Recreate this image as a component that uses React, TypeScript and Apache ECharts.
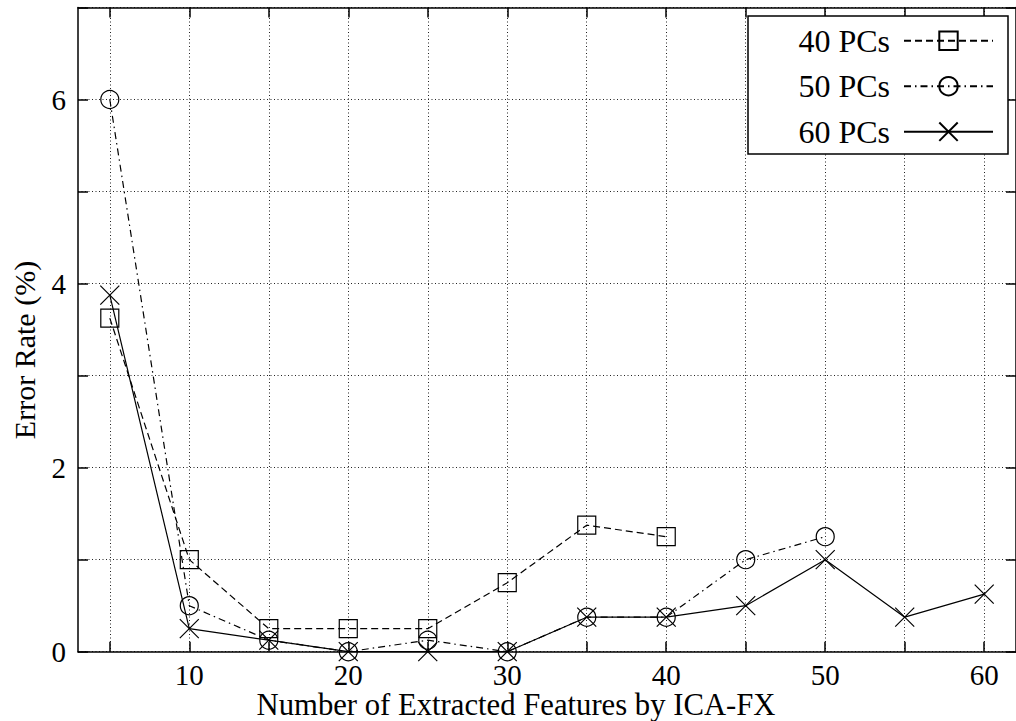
import React, { useEffect, useRef } from "react";
import * as echarts from "echarts";

// Number of features extracted by ICA-FX (x) and the error rate in % (y)
const featureCounts = [5, 10, 15, 20, 25, 30, 35, 40, 45, 50, 55, 60];
const pcs40 = [3.625, 1.0, 0.25, 0.25, 0.25, 0.75, 1.375, 1.25];
const pcs50 = [6.0, 0.5, 0.125, 0, 0.125, 0, 0.375, 0.375, 1.0, 1.25];
const pcs60 = [3.875, 0.25, 0.125, 0, 0, 0, 0.375, 0.375, 0.5, 1.0, 0.375, 0.625];

const seriesNames = ["40 PCs", "50 PCs", "60 PCs"];
const xTickValues = [5, 10, 15, 20, 25, 30, 35, 40, 45, 50, 55, 60];
const xLabelValues = [10, 20, 30, 40, 50, 60];
const yLabelValues = [0, 2, 4, 6];

const xTitle = "Number of Extracted Features by ICA-FX";
const yTitle = "Error Rate (%)";

const FONT = "Liberation Serif, DejaVu Serif, serif";
const INK = "#000";

const pairs = (ys: number[]) => ys.map((v, i) => [featureCounts[i], v]);

const crossSymbol = "path://M0,0L10,10M10,0L0,10";

export default function App() {
  const ref = useRef<HTMLDivElement>(null);

  useEffect(() => {
    if (!ref.current) return;
    const chart = echarts.init(ref.current, undefined, { renderer: "svg" });

    const axisLine = { show: true, onZero: false, lineStyle: { color: INK, width: 1.5 } };
    const tickStyle = { color: INK, width: 1.5 };
    const gridLine = { show: true, lineStyle: { color: "#222", width: 1, type: [1, 2.5] as any } };

    const markerStyle = {
      color: "rgba(0,0,0,0)",
      borderColor: INK,
      borderWidth: 1.2,
    };

    chart.setOption({
      animation: false,
      backgroundColor: "#fff",
      grid: { left: 78, top: 7.5, right: -4, bottom: 69.3, containLabel: false },
      xAxis: [
        {
          type: "value",
          position: "bottom",
          min: 3,
          max: 62,
          axisLine,
          axisTick: { show: true, inside: true, length: 10, customValues: xTickValues, lineStyle: tickStyle },
          axisLabel: {
            customValues: xLabelValues,
            color: INK,
            fontSize: 29,
            fontFamily: FONT,
            lineHeight: 26,
            margin: 10,
          },
          splitLine: gridLine,
        },
        {
          type: "value",
          position: "top",
          min: 3,
          max: 62,
          axisLine,
          axisTick: { show: true, inside: true, length: 10, customValues: xTickValues, lineStyle: tickStyle },
          axisLabel: { show: false },
          splitLine: { show: false },
        },
      ],
      yAxis: [
        {
          type: "value",
          position: "left",
          min: 0,
          max: 7,
          interval: 1,
          axisLine,
          axisTick: { show: true, inside: true, length: 10, lineStyle: tickStyle },
          axisLabel: {
            color: INK,
            fontSize: 29,
            fontFamily: FONT,
            margin: 12,
            formatter: (v: number) => (yLabelValues.includes(v) ? String(v) : ""),
          },
          splitLine: gridLine,
        },
        {
          type: "value",
          position: "right",
          min: 0,
          max: 7,
          interval: 1,
          axisLine,
          axisTick: { show: true, inside: true, length: 10, lineStyle: tickStyle },
          axisLabel: { show: false },
          splitLine: { show: false },
        },
      ],
      legend: {
        show: true,
        data: seriesNames,
        orient: "vertical",
        right: 22,
        top: 24.7,
        padding: 0,
        itemGap: 13.5,
        itemWidth: 89,
        itemHeight: 23,
        align: "right",
        z: 60,
        textStyle: {
          color: INK,
          fontSize: 32,
          fontFamily: FONT,
          lineHeight: 30,
          padding: [0, 9, 0, 0],
        },
      },
      graphic: [
        {
          type: "rect",
          z: 50,
          shape: { x: 748, y: 16, width: 260, height: 138 },
          style: { fill: "#fff", stroke: INK, lineWidth: 1.5 },
        },
        {
          type: "text",
          x: 516,
          y: 705,
          style: {
            text: xTitle,
            fontSize: 30.7,
            fontFamily: FONT,
            lineHeight: 26,
            fill: INK,
            align: "center",
            verticalAlign: "middle",
          },
        },
        {
          type: "text",
          x: 24,
          y: 350,
          rotation: Math.PI / 2,
          style: {
            text: yTitle,
            fontSize: 30,
            fontFamily: FONT,
            fill: INK,
            align: "center",
            verticalAlign: "middle",
          },
        },
      ],
      series: [
        {
          name: seriesNames[0],
          type: "line",
          data: pairs(pcs40),
          symbol: "rect",
          symbolSize: 18,
          lineStyle: { color: INK, width: 1.2, type: [7, 4] },
          itemStyle: markerStyle,
          emphasis: { disabled: true },
          z: 3,
        },
        {
          name: seriesNames[1],
          type: "line",
          data: pairs(pcs50),
          symbol: "circle",
          symbolSize: 18,
          lineStyle: { color: INK, width: 1.2, type: [7, 4, 1.5, 4] },
          itemStyle: markerStyle,
          emphasis: { disabled: true },
          z: 3,
        },
        {
          name: seriesNames[2],
          type: "line",
          data: pairs(pcs60),
          symbol: crossSymbol,
          symbolSize: 19,
          lineStyle: { color: INK, width: 1.2, type: "solid" },
          itemStyle: markerStyle,
          emphasis: { disabled: true },
          z: 3,
        },
      ],
    });

    return () => chart.dispose();
  }, []);

  return (
    <div
      ref={ref}
      style={{ position: "fixed", left: 0, top: 0, width: 1016, height: 721, background: "#fff" }}
    />
  );
}
